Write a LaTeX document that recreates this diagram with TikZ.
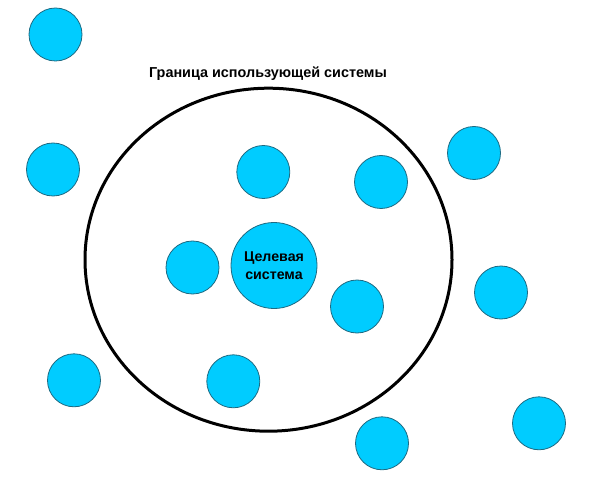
\documentclass[tikz,border=0pt]{standalone}
\usepackage{fontspec}
\setmainfont{Liberation Sans}
\usetikzlibrary{shapes.geometric}
\definecolor{cfill}{HTML}{00CCFF}
\definecolor{cline}{HTML}{1E6A82}
\tikzset{
  ball/.style={circle, fill=cfill, draw=cline, line width=0.8pt, minimum size=53pt, inner sep=0pt},
  target/.style={circle, fill=cfill, draw=cline, line width=0.8pt, minimum size=86pt, inner sep=0pt, align=center, font=\bfseries\fontsize{14.2}{17.6}\selectfont},
  boundary/.style={ellipse, draw=black, line width=3pt, minimum width=367pt, minimum height=343pt, inner sep=0pt},
  title/.style={font=\bfseries\fontsize{14.4}{16}\selectfont, inner sep=0pt}
}
\begin{document}
\begin{tikzpicture}[x=1pt,y=-1pt]
\useasboundingbox (0,0) rectangle (591,478);
\node[boundary] (bnd) at (268.5,259.7) {};
\node[title] (lbl) at (268,74) {Граница использующей системы};
\node[ball] (b1) at (55.5,34.5) {};
\node[ball] (b2) at (53,169.5) {};
\node[ball] (b3) at (263.3,172) {};
\node[ball] (b4) at (381,182) {};
\node[ball] (b5) at (474,153) {};
\node[ball] (b6) at (192.5,267.5) {};
\node[target] (tgt) at (274,265.5) {Целевая\\система};
\node[ball] (b7) at (357,306.5) {};
\node[ball] (b8) at (501,292.5) {};
\node[ball] (b9) at (74,380.3) {};
\node[ball] (b10) at (233.3,381.3) {};
\node[ball] (b11) at (382,443.3) {};
\node[ball] (b12) at (539,423.3) {};
\end{tikzpicture}
\end{document}
